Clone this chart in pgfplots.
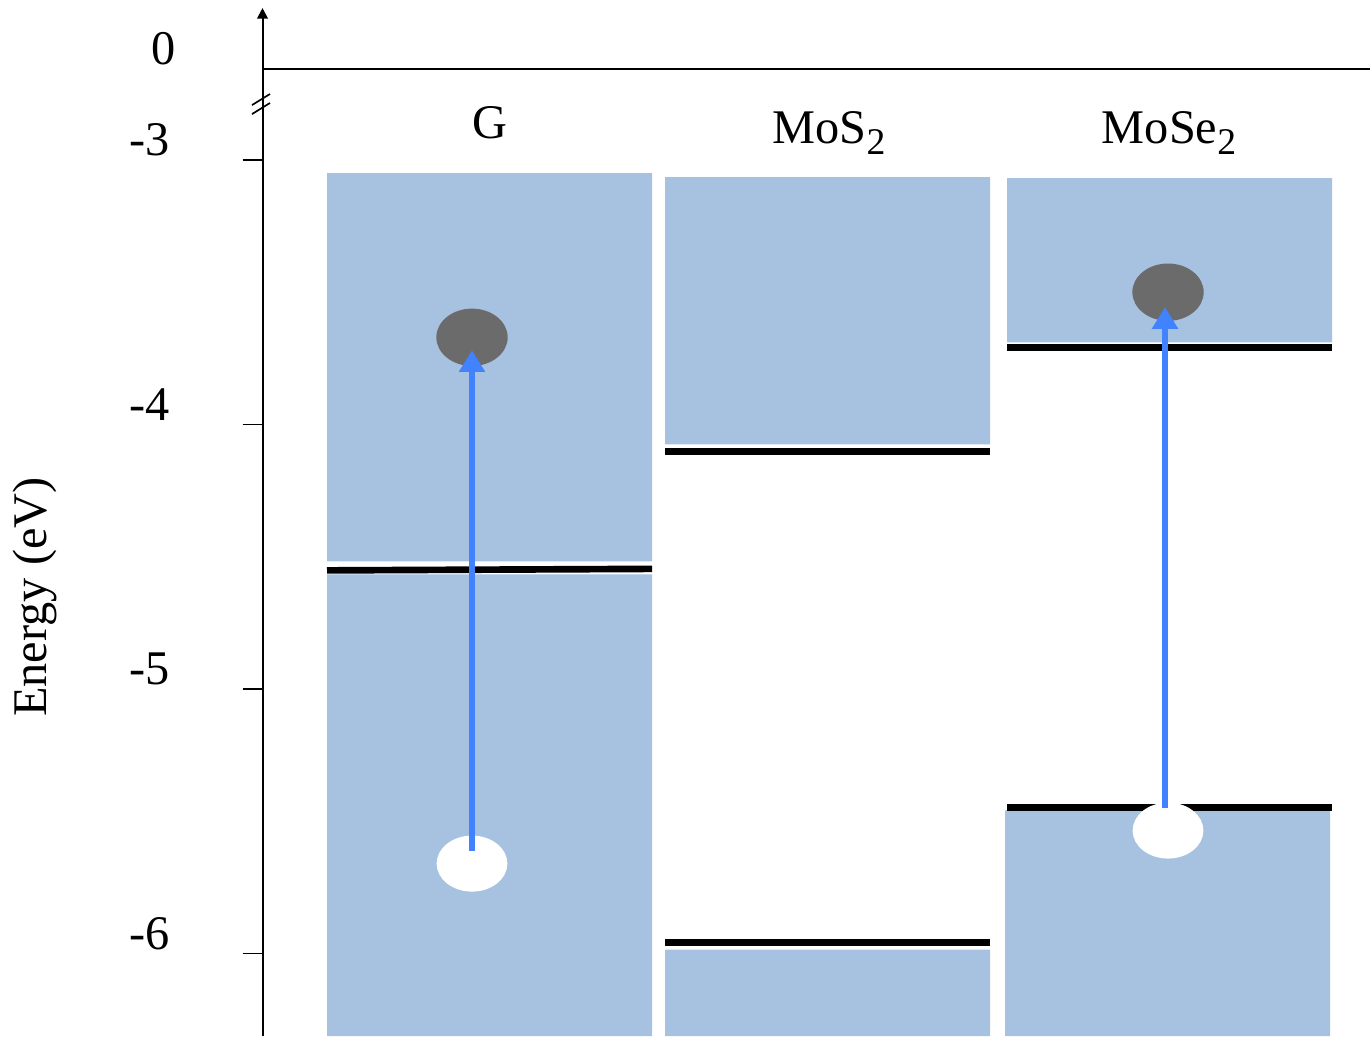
\documentclass[border=0pt]{standalone}
\usepackage{pgfplots}
\pgfplotsset{compat=1.18}
\usetikzlibrary{arrows.meta}
\usepackage{fontspec}
\setmainfont{Liberation Serif}
\definecolor{barblue}{RGB}{167,193,224}
\definecolor{egray}{RGB}{107,107,107}
\definecolor{arrblue}{RGB}{65,130,255}
\newcommand{\lab}{\fontsize{14.5pt}{17pt}\selectfont}
\newcommand{\sub}[1]{\raisebox{-3.3pt}{\fontsize{11.3pt}{12pt}\selectfont #1}}
\begin{document}
\begin{tikzpicture}
\begin{axis}[
  set layers,
  scale only axis,
  width=332.25pt, height=308.4pt,
  xmin=262.5, xmax=1370, ymin=-6.312, ymax=-2.425,
  axis x line=none,
  axis y line=left,
  y axis line style={line width=0.6pt, -{Triangle[width=3.2pt,length=3.2pt]}},
  clip=false,
  ytick={-6,-5,-4,-3},
  yticklabels={-6,-5,-4,-3},
  tick align=outside,
  major tick length=6pt,
  tick style={line width=0.45pt, black},
  yticklabel style={font=\lab, anchor=east, inner sep=0pt, xshift=-21.6pt, yshift=6pt},
  extra y ticks={-2.6557},
  extra y tick labels={0},
  extra y tick style={tick style={draw=none}, yticklabel style={xshift=1.8pt}},
  ylabel={Energy (eV)},
  every axis y label/.style={at={(axis description cs:-0.2054,0.427)}, rotate=90, anchor=center, font=\lab},
]
% G bar
\addplot[fill=barblue, draw=none] coordinates {(327,-3.049) (652,-3.049) (652,-4.517) (327,-4.517) (327,-3.049)};
\addplot[fill=barblue, draw=none] coordinates {(327,-4.566) (652,-4.566) (652,-6.312) (327,-6.312) (327,-4.566)};
% MoS2 bar
\addplot[fill=barblue, draw=none] coordinates {(665,-3.064) (990,-3.064) (990,-4.0745) (665,-4.0745) (665,-3.064)};
\addplot[fill=barblue, draw=none] coordinates {(665,-5.985) (990,-5.985) (990,-6.312) (665,-6.312) (665,-5.985)};
% MoSe2 bar
\addplot[fill=barblue, draw=none] coordinates {(1007,-3.068) (1332,-3.068) (1332,-3.689) (1007,-3.689) (1007,-3.068)};
\addplot[fill=barblue, draw=none] coordinates {(1005,-5.459) (1330,-5.459) (1330,-6.312) (1005,-6.312) (1005,-5.459)};
% band edge lines
\addplot[black, line width=2pt] coordinates {(327,-4.5513) (652,-4.5456)};
\addplot[black, line width=2pt] coordinates {(665,-4.103) (990,-4.103)};
\addplot[black, line width=2pt] coordinates {(665,-5.959) (990,-5.959)};
\addplot[black, line width=2pt] coordinates {(1007,-3.7075) (1332,-3.7075)};
\addplot[black, line width=2pt] coordinates {(1007,-5.448) (1332,-5.448)};
% zero line
\addplot[black, line width=0.6pt] coordinates {(262.5,-2.6557) (1370,-2.6557)};
% axis break marks
\addplot[black, line width=0.5pt] coordinates {(252,-2.792) (270,-2.750)};
\addplot[black, line width=0.5pt] coordinates {(252,-2.826) (270,-2.784)};
% electrons and holes
\addplot[egray, only marks, mark=*, mark size=8.4pt, mark options={xscale=1.25, fill=egray, draw=egray}] coordinates {(472,-3.670) (1168,-3.4994)};
\addplot[white, only marks, mark=*, mark size=8.2pt, mark options={xscale=1.27, fill=white, draw=white}] coordinates {(472,-5.660) (1168,-5.535)};
% excitation arrows
\addplot[on layer=axis foreground, arrblue, line width=1.8pt, -{Triangle[width=7.5pt,length=6.5pt]}] coordinates {(472,-5.611) (472,-3.719)};
\addplot[on layer=axis foreground, arrblue, line width=1.8pt, -{Triangle[width=7.5pt,length=6.5pt]}] coordinates {(1165,-5.448) (1165,-3.556)};
% labels
\node[font=\lab, anchor=base] at (axis cs:490,-2.92) {G};
\node[font=\lab, anchor=base] at (axis cs:829,-2.936) {MoS\sub{2}};
\node[font=\lab, anchor=base] at (axis cs:1169,-2.936) {MoSe\sub{2}};
\coordinate (bl) at (axis cs:0,-6.312);
\coordinate (tr) at (axis cs:1370,-2.3946);
\end{axis}
\pgfresetboundingbox
\path[use as bounding box] (bl) rectangle (tr);
\end{tikzpicture}
\end{document}
